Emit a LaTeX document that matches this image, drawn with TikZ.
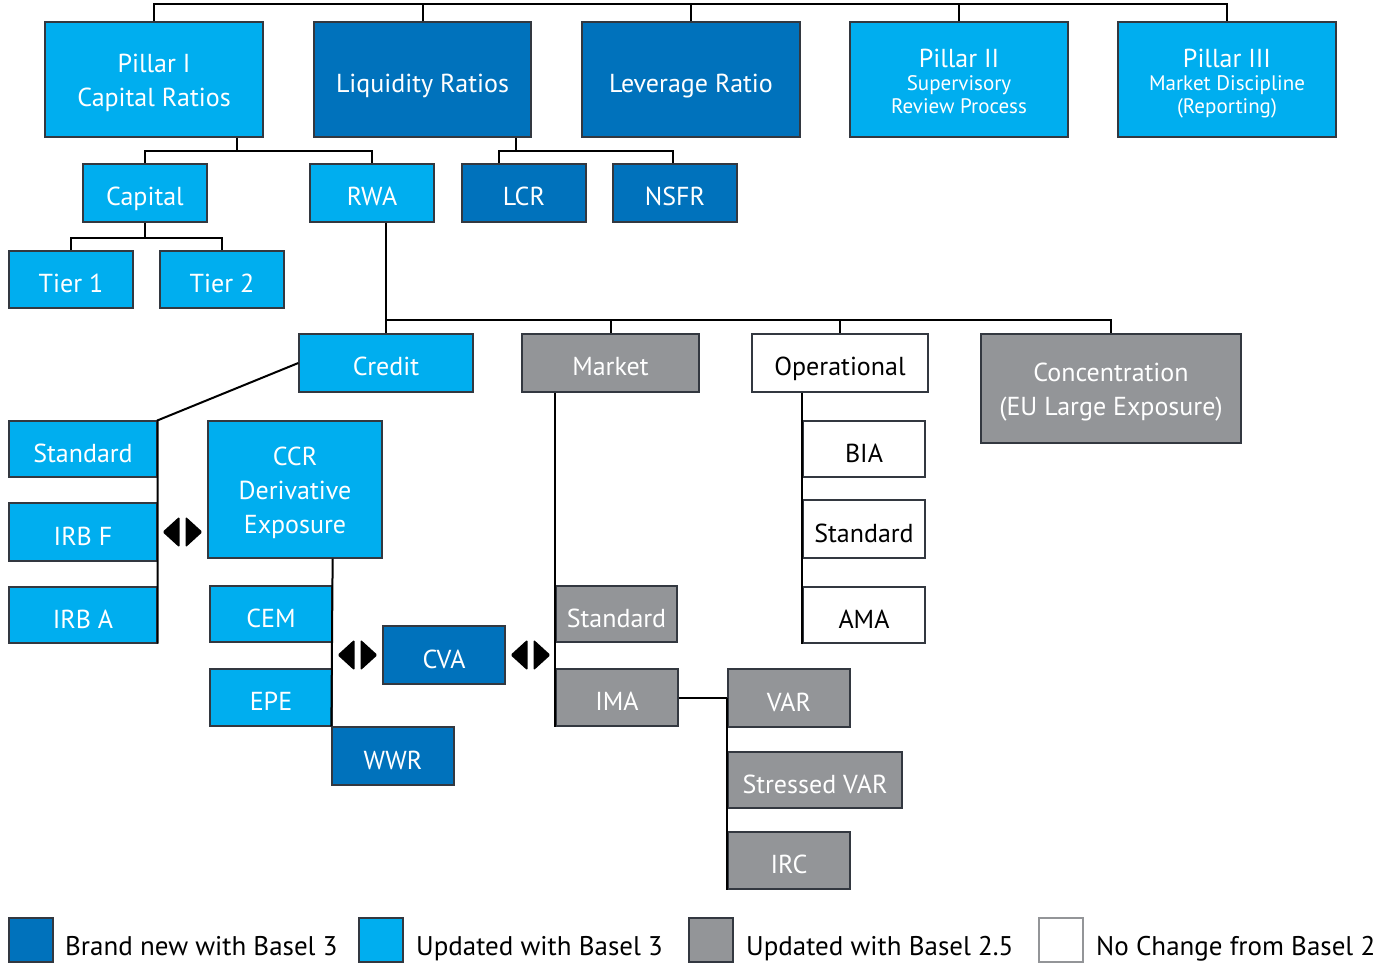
\documentclass[tikz,border=0pt]{standalone}
\usepackage{fontspec}
\setmainfont{PT Sans}
\usetikzlibrary{calc}
\definecolor{dblue}{HTML}{0072BC}
\definecolor{lblue}{HTML}{00AEEF}
\definecolor{mgray}{HTML}{939598}
\definecolor{boxline}{HTML}{333840}
\newcommand\mytop[1]{\rule{0pt}{#1pt}}
\newcommand\mybot{\rule[-7pt]{0pt}{0pt}}
\begin{document}
\begin{tikzpicture}[x=1pt,y=-1pt,
  box/.style={draw=boxline, line width=1.3pt, inner sep=0pt, text=white,
    font=\fontsize{26}{34}\selectfont, align=center,
    text height=33pt, text depth=7pt},
  multi/.style={text height={}, text depth={}},
  nb/.style={box, fill=dblue},
  ub/.style={box, fill=lblue},
  gb/.style={box, fill=mgray},
  wb/.style={box, fill=white, text=black},
  sz/.style 2 args={minimum width=#1pt, minimum height=#2pt},
  conn/.style={line width=2pt, black},
  legtext/.style={anchor=base west, inner sep=0pt, font=\fontsize{27}{30}\selectfont},
  dbl/.pic={
    \fill[rounded corners=1.5pt] (-20,0) -- (-3,-15.5) -- (-3,15.5) -- cycle;
    \fill[rounded corners=1.5pt] (20,0) -- (3,-15.5) -- (3,15.5) -- cycle;}
]
\useasboundingbox (0,0) rectangle (1379,965);

% top row
\node[ub, multi, sz={218}{115}] (p1) at (154,79.5) {\mytop{27}Pillar I\\Capital Ratios\mybot};
\node[nb, sz={217}{115}] (liq) at (422.5,79.5) {Liquidity Ratios};
\node[nb, sz={218}{115}] (lev) at (691,79.5) {Leverage Ratio};
\node[ub, multi, sz={218}{115}, font=\fontsize{21}{23}\selectfont] (p2) at (959,79.5)
  {{\fontsize{26}{26}\selectfont\mytop{30}Pillar II}\\Supervisory\\Review Process\mybot};
\node[ub, multi, sz={218}{115}, font=\fontsize{21}{23}\selectfont] (p3) at (1227,79.5)
  {{\fontsize{26}{26}\selectfont\mytop{30}Pillar III}\\Market Discipline\\(Reporting)\mybot};

% second row
\node[ub, sz={124}{58}] (cap) at (145,193) {Capital};
\node[ub, sz={124}{58}] (rwa) at (372,193) {RWA};
\node[nb, sz={124}{58}] (lcr) at (524,193) {LCR};
\node[nb, sz={124}{58}] (nsfr) at (675,193) {NSFR};
\node[ub, sz={124}{57}] (t1) at (71,279.5) {Tier 1};
\node[ub, sz={124}{57}] (t2) at (222,279.5) {Tier 2};

% risk types
\node[ub, sz={174}{58}] (credit) at (386,363) {Credit};
\node[gb, sz={177}{58}] (market) at (610.5,363) {Market};
\node[wb, sz={176}{58}] (oper) at (840,363) {Operational};
\node[gb, multi, sz={260}{109}] (conc) at (1111,388.5) {\mytop{27}Concentration\\(EU Large Exposure)\mybot};

% credit
\node[ub, sz={148}{56}] (cstd) at (83,449) {Standard};
\node[ub, sz={148}{58}] (irbf) at (83,532) {IRB F};
\node[ub, sz={148}{56}] (irba) at (83,615) {IRB A};
\node[ub, multi, sz={174}{137}] (ccr) at (295,489.5) {\mytop{27}CCR\\Derivative\\Exposure\mybot};
\node[ub, sz={122}{56}] (cem) at (271,614) {CEM};
\node[ub, sz={122}{57}] (epe) at (271,697.5) {EPE};
\node[nb, sz={122}{58}] (wwr) at (393,756) {WWR};
\node[nb, sz={122}{58}] (cva) at (444,655) {CVA};

% market
\node[gb, sz={121}{56}] (mstd) at (616.5,614) {Standard};
\node[gb, sz={122}{57}] (ima) at (617,697.5) {IMA};
\node[gb, sz={122}{58}] (var) at (789,698) {VAR};
\node[gb, sz={174}{56}] (svar) at (815,780) {Stressed VAR};
\node[gb, sz={122}{57}] (irc) at (789,860.5) {IRC};

% operational
\node[wb, sz={122}{56}] (bia) at (864,449) {BIA};
\node[wb, sz={122}{58}] (ostd) at (864,529) {Standard};
\node[wb, sz={122}{56}] (ama) at (864,615) {AMA};

% connectors
\draw[conn] (p1.north) -- ++(0,-17) -| (p3.north);
\foreach \n in {liq,lev,p2} \draw[conn] (\n.north) -- ++(0,-17);

\draw[conn] ([xshift=-27pt]p1.south east) -- ++(0,13) -| (cap.north);
\draw[conn] ([xshift=-27pt]p1.south east) ++(0,13) -| (rwa.north);
\draw[conn] ([xshift=-16pt]liq.south east) -- ++(0,13) -| ([xshift=-25pt]lcr.north);
\draw[conn] ([xshift=-16pt]liq.south east) ++(0,13) -| ([xshift=-2pt]nsfr.north);
\draw[conn] (cap.south) -- ++(0,15) -| (t1.north);
\draw[conn] (cap.south) ++(0,15) -| (t2.north);

\draw[conn] (rwa.south -| credit.north) -- (credit.north);
\draw[conn] (credit.north) ++(0,-13) -| (conc.north);
\draw[conn] (market.north) -- ++(0,-13);
\draw[conn] (oper.north) -- ++(0,-13);

\draw[conn] (credit.west) -- (cstd.north east) -- (irba.south east);
\draw[conn] (ccr.south -| cem.east) -- (wwr.north west);
\draw[conn] (market.south -| mstd.west) -- (ima.south west);
\draw[conn] (oper.south -| bia.west) -- (ama.south west);
\draw[conn] (ima.east) -- (ima.east -| var.west);
\draw[conn] (ima.east -| var.west) -- (irc.south west);

% double arrows
\coordinate (a1) at ($(irbf.east)!0.5!(irbf.east -| ccr.west)$);
\coordinate (a2) at ($(cva.west -| cem.east)!0.5!(cva.west)$);
\coordinate (a3) at ($(cva.east)!0.5!(cva.east -| ima.west)$);
\pic at (a1) {dbl};
\pic at (a2) {dbl};
\pic at (a3) {dbl};

% legend
\node[nb, sz={44}{44}] (l1) at (31,940) {};
\node[legtext] (l1t) at (65,955) {Brand new with Basel 3};
\node[ub, sz={44}{44}] (l2) at (381,940) {};
\node[legtext] (l2t) at (416,955) {Updated with Basel 3};
\node[gb, sz={44}{44}] (l3) at (711,940) {};
\node[legtext] (l3t) at (746,955) {Updated with Basel 2.5};
\node[wb, sz={44}{44}, draw=mgray] (l4) at (1061,940) {};
\node[legtext] (l4t) at (1096,955) {No Change from Basel 2};
\end{tikzpicture}
\end{document}
